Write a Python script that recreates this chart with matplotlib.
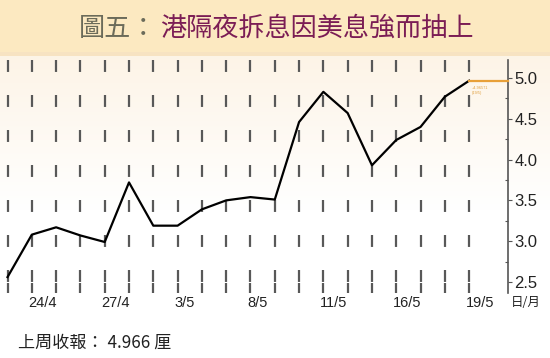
import numpy as np
import matplotlib
matplotlib.use('Agg')
import matplotlib.pyplot as plt
from matplotlib.patches import Rectangle

plt.rcParams['font.family'] = ['Liberation Sans', 'Noto Sans CJK TC', 'DejaVu Sans']
plt.rcParams['lines.scale_dashes'] = False

# 港隔夜拆息 (%)
rates = [2.56, 3.08, 3.17, 3.07, 2.99, 3.72, 3.19, 3.19, 3.39, 3.50,
         3.54, 3.51, 4.46, 4.83, 4.57, 3.93, 4.24, 4.40, 4.77, 4.966]
date_labels = ['24/4', '27/4', '3/5', '8/5', '11/5', '16/5', '19/5']
label_idx = [1, 4, 7, 10, 13, 16, 19]
yticks = [2.5, 3.0, 3.5, 4.0, 4.5, 5.0]
last_close = 4.966

W, H = 550, 358
fig = plt.figure(figsize=(W / 100, H / 100), dpi=100)

# 背景：标题色带 + 上方淡黄渐变
bg = fig.add_axes([0, 0, 1, 1], zorder=-10)
bg.set_xlim(0, W)
bg.set_ylim(H, 0)
bg.axis('off')
grad = np.ones((H, 1, 3))
top, fade = 55, 210
for r in range(H):
    t = 0.0 if r < top else min(1.0, (r - top) / (fade - top))
    c0 = np.array([0.992, 0.957, 0.905])
    grad[r, 0] = c0 * (1 - t) + np.array([1, 1, 1]) * t
bg.imshow(grad, extent=[0, W, H, 0], aspect='auto')
bg.add_patch(Rectangle((0, 0), W, 52, color='#fce9c1', lw=0))
bg.add_patch(Rectangle((0, 52), W, 4, color='#f7e3c2', lw=0))

fig.text(79 / W, 1 - 28 / H, '圖五：', family=['Noto Sans CJK TC'], fontsize=18.8,
         color='#6b6b5a', ha='left', va='center', weight='medium')
fig.text(160 / W, 1 - 28 / H, '港隔夜拆息因美息強而抽上', family=['Noto Sans CJK TC'],
         fontsize=18.8, color='#7b1d55', ha='left', va='center', weight='medium')

# 主图
ax = fig.add_axes([0, 1 - 293 / H, 508 / W, (293 - 60) / H])
ax.set_facecolor('none')
x = np.arange(len(rates))
ax.set_xlim(-0.31, 20.6)
ax.set_ylim(2.365, 5.22)

for i in x:
    ax.plot([i, i], [5.22, 2.365], color='#585858', lw=1.6,
            dashes=(8.6, 16.6), zorder=1)

ax.plot(x, rates, color='black', lw=1.6, zorder=3)
ax.plot([x[-1], 20.6], [last_close, last_close], color='#e8a038', lw=1.6,
        zorder=3, clip_on=False)
ax.text(x[-1] + 0.12, last_close - 0.06, '+4.96571\n(19/5)', fontsize=2.8,
        color='#e0a040', va='top', ha='left', linespacing=1.3)

for s in ['top', 'left', 'bottom']:
    ax.spines[s].set_visible(False)
ax.spines['right'].set_color('#555555')
ax.spines['right'].set_linewidth(1.2)

ax.yaxis.tick_right()
ax.set_yticks(yticks)
ax.set_yticklabels([f'{v:.1f}' for v in yticks])
ax.set_yticks(np.arange(2.75, 5.1, 0.5), minor=True)
ax.tick_params(axis='y', which='major', direction='out', length=3, width=0.8,
               colors='#555555', labelcolor='#222222', labelsize=12, pad=1.5)
ax.tick_params(axis='y', which='minor', direction='in', length=2, width=0.8,
               colors='#555555')

ax.set_xticks(x)
ax.set_xticklabels([])
ax.tick_params(axis='x', which='major', direction='in', length=7, width=1.6,
               colors='#585858')

for i, lab in zip(label_idx, date_labels):
    ax.text(i - 0.14, 2.365 - 0.04, lab, fontsize=10.5, ha='left', va='top',
            color='#222222')
fig.text(526 / W, 1 - 303 / H, '日/月', family=['Noto Sans CJK TC'], fontsize=9,
         ha='center', va='center', color='#222222')

fig.text(18 / W, 1 - 343 / H, f'上周收報： {last_close} 厘',
         family=['Noto Sans CJK TC', 'Liberation Sans'], fontsize=12.3,
         ha='left', va='center', color='#222222')

fig.savefig('out.png', dpi=100)
